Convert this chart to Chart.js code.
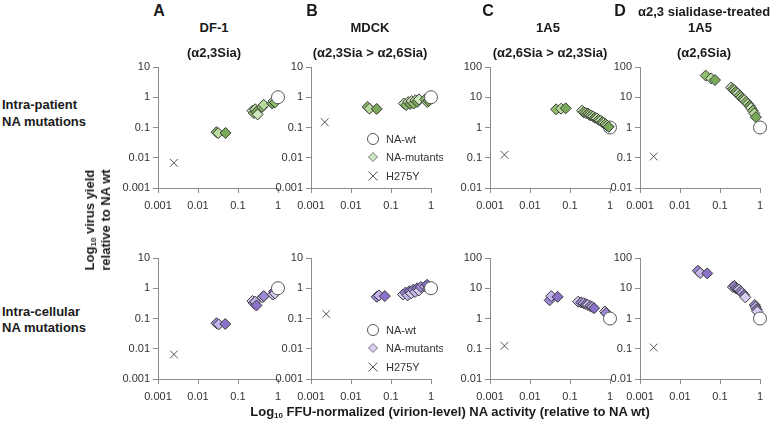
<!DOCTYPE html>
<html>
<head>
<meta charset="utf-8">
<script src="https://cdn.jsdelivr.net/npm/chart.js@4.4.1/dist/chart.umd.min.js"></script>
<style>
  body { margin: 0; background: #fff; }
  #wrap { position: relative; width: 775px; height: 430px; overflow: hidden;
          font-family: "Liberation Sans", Arial, sans-serif; color: #1a1a1a; }
  #wrap canvas { position: absolute; }
  .t { position: absolute; white-space: nowrap; font-weight: bold; font-size: 13px; line-height: 1; }
  .c { transform: translate(-50%, -50%); }
  .l { transform: translate(0, -50%); }
  .big { font-size: 16px; }
  .rot { transform: translate(-50%, -50%) rotate(-90deg); text-align: center; line-height: 16px; }
  sub { font-size: 8px; vertical-align: -2px; line-height: 0; }
</style>
</head>
<body>
<div id="wrap"></div>
<script>
// ─── Data ────────────────────────────────────────────────────────────────
var xTicks = [0.001, 0.01, 0.1, 1];
var yTicksLow = [0.001, 0.01, 0.1, 1, 10];     // DF-1, MDCK
var yTicksHigh = [0.01, 0.1, 1, 10, 100];      // 1A5 panels
var seriesLabels = ['NA-wt', 'NA-mutants', 'H275Y'];
var wtPoint = [1, 1];

// Intra-patient NA mutations (top row)
var dfPatX = [0.029, 0.032, 0.049, 0.23, 0.25, 0.27, 0.29, 0.31, 0.40, 0.44, 0.72, 0.78, 0.84];
var dfPatY = [0.07, 0.065, 0.066, 0.36, 0.30, 0.40, 0.33, 0.27, 0.48, 0.56, 0.62, 0.75, 0.68];
var dfPatH275Y = [0.0025, 0.0068];

var mdckPatX = [0.026, 0.029, 0.044, 0.21, 0.24, 0.27, 0.30, 0.33, 0.37, 0.41, 0.45, 0.50, 0.72, 0.80, 0.88];
var mdckPatY = [0.48, 0.42, 0.41, 0.62, 0.55, 0.70, 0.60, 0.75, 0.62, 0.80, 0.70, 0.85, 0.85, 0.70, 0.75];
var mdckPatH275Y = [0.0022, 0.15];

var a15PatX = [0.045, 0.06, 0.078, 0.2, 0.22, 0.25, 0.28, 0.31, 0.34, 0.38, 0.42, 0.47, 0.52, 0.58, 0.64, 0.70, 0.77, 0.85, 0.93];
var a15PatY = [4.0, 4.2, 4.3, 3.6, 3.2, 3.0, 2.9, 2.6, 2.5, 2.3, 2.1, 2.0, 1.8, 1.7, 1.5, 1.4, 1.3, 1.15, 1.05];
var a15PatH275Y = [0.0023, 0.125];

var sialPatX = [0.044, 0.06, 0.075, 0.19, 0.21, 0.23, 0.25, 0.28, 0.31, 0.34, 0.37, 0.41, 0.45, 0.50, 0.55, 0.60, 0.66, 0.72, 0.79];
var sialPatY = [52, 42, 37, 21, 18.5, 17, 15, 13, 11.5, 10, 9, 8, 7, 6, 5.2, 4.4, 3.6, 2.9, 2.2];
var sialPatH275Y = [0.0022, 0.11];

// Intra-cellular NA mutations (bottom row)
var dfCelX = [0.029, 0.033, 0.048, 0.23, 0.25, 0.27, 0.29, 0.41, 0.44, 0.74, 0.80, 0.84];
var dfCelY = [0.07, 0.064, 0.066, 0.38, 0.32, 0.36, 0.27, 0.50, 0.55, 0.62, 0.78, 0.68];
var dfCelH275Y = [0.0025, 0.0065];

var mdckCelX = [0.044, 0.05, 0.07, 0.20, 0.23, 0.26, 0.29, 0.32, 0.36, 0.40, 0.45, 0.50, 0.56, 0.72, 0.80, 0.87];
var mdckCelY = [0.52, 0.58, 0.55, 0.62, 0.72, 0.58, 0.80, 0.68, 0.90, 0.75, 1.0, 0.85, 1.1, 1.15, 1.3, 1.0];
var mdckCelH275Y = [0.0024, 0.14];

var a15CelX = [0.031, 0.034, 0.049, 0.16, 0.19, 0.22, 0.25, 0.28, 0.32, 0.36, 0.40, 0.75, 0.80];
var a15CelY = [4.0, 5.5, 5.2, 3.6, 3.4, 3.2, 3.0, 2.8, 2.6, 2.4, 2.2, 1.7, 1.5];
var a15CelH275Y = [0.0023, 0.125];

var sialCelX = [0.028, 0.032, 0.048, 0.21, 0.23, 0.25, 0.27, 0.30, 0.33, 0.36, 0.40, 0.43, 0.74, 0.78, 0.82, 0.86];
var sialCelY = [38, 32, 31, 11, 12, 10, 9.5, 9, 8, 7, 6, 5, 2.8, 2.4, 2.0, 1.7];
var sialCelH275Y = [0.0022, 0.11];

// ─── Layout / styles ─────────────────────────────────────────────────────
var axisLeft = [158, 311, 490, 640];
var plotTop = [67, 258];
var plotW = 120, plotH = 121;
var padL = 50, padT = 10, padR = 12, padB = 32;
var axisGray = '#8c8c8c';
var tickFont = { family: '"Liberation Sans", Arial, sans-serif', size: 11 };
var greens = ['#8fbf6a', '#b8da9f', '#7aa95a', '#cde5bc'];
var purples = ['#9f88d8', '#c4b4ec', '#8a72c8', '#d9cdf3'];

var panels = [
    { row: 0, col: 0, x: dfPatX,   y: dfPatY,   h: dfPatH275Y,   yt: yTicksLow,  shades: greens },
    { row: 0, col: 1, x: mdckPatX, y: mdckPatY, h: mdckPatH275Y, yt: yTicksLow,  shades: greens, legend: true },
    { row: 0, col: 2, x: a15PatX,  y: a15PatY,  h: a15PatH275Y,  yt: yTicksHigh, shades: greens, wtBelow: true },
    { row: 0, col: 3, x: sialPatX, y: sialPatY, h: sialPatH275Y, yt: yTicksHigh, shades: greens },
    { row: 1, col: 0, x: dfCelX,   y: dfCelY,   h: dfCelH275Y,   yt: yTicksLow,  shades: purples },
    { row: 1, col: 1, x: mdckCelX, y: mdckCelY, h: mdckCelH275Y, yt: yTicksLow,  shades: purples, legend: true },
    { row: 1, col: 2, x: a15CelX,  y: a15CelY,  h: a15CelH275Y,  yt: yTicksHigh, shades: purples },
    { row: 1, col: 3, x: sialCelX, y: sialCelY, h: sialCelH275Y, yt: yTicksHigh, shades: purples }
];

var wrap = document.getElementById('wrap');

// legend drawn inside the MDCK panels
var insideLegend = {
    id: 'insideLegend',
    afterDatasetsDraw: function (chart) {
        var ctx = chart.ctx, a = chart.chartArea;
        var mx = a.left + 62, tx = a.left + 75, ys = [72, 90, 109];
        ctx.save();
        ctx.lineWidth = 1;
        chart.data.datasets.forEach(function (ds, i) {
            var y = a.top + ys[i];
            ctx.beginPath();
            if (i === 0) {
                ctx.arc(mx, y, 5.5, 0, Math.PI * 2);
                ctx.fillStyle = '#fff'; ctx.fill();
                ctx.strokeStyle = '#555'; ctx.stroke();
            } else if (i === 1) {
                ctx.moveTo(mx, y - 4.5); ctx.lineTo(mx + 4.5, y);
                ctx.lineTo(mx, y + 4.5); ctx.lineTo(mx - 4.5, y); ctx.closePath();
                ctx.fillStyle = ds.legendFill; ctx.fill();
                ctx.strokeStyle = '#777'; ctx.stroke();
            } else {
                ctx.moveTo(mx - 4.5, y - 4.5); ctx.lineTo(mx + 4.5, y + 4.5);
                ctx.moveTo(mx + 4.5, y - 4.5); ctx.lineTo(mx - 4.5, y + 4.5);
                ctx.strokeStyle = '#555'; ctx.stroke();
            }
            ctx.font = '11px "Liberation Sans", Arial, sans-serif';
            ctx.fillStyle = '#333';
            ctx.textBaseline = 'middle';
            ctx.fillText(ds.label, tx, y + 0.5);
        });
        ctx.restore();
    }
};

function logAxis(vals, isX) {
    return {
        type: 'logarithmic',
        min: vals[0],
        max: vals[vals.length - 1],
        afterBuildTicks: function (s) { s.ticks = vals.map(function (v) { return { value: v }; }); },
        afterFit: function (s) { if (isX) { s.height = padB; } else { s.width = padL; } },
        ticks: {
            callback: function (v) { return vals.indexOf(v) >= 0 ? String(v) : ''; },
            font: tickFont,
            color: '#333',
            padding: isX ? 6 : 3,
            maxRotation: 0,
            autoSkip: false
        },
        grid: { display: true, drawOnChartArea: false, drawTicks: true, tickLength: 5, color: axisGray },
        border: { display: true, color: axisGray, width: 1 }
    };
}

panels.forEach(function (p) {
    var cv = document.createElement('canvas');
    var w = padL + plotW + padR, h = padT + plotH + padB;
    cv.width = w; cv.height = h;
    cv.style.left = (axisLeft[p.col] - padL) + 'px';
    cv.style.top = (plotTop[p.row] - padT) + 'px';
    cv.style.width = w + 'px'; cv.style.height = h + 'px';
    wrap.appendChild(cv);

    var mutants = p.x.map(function (v, i) { return { x: v, y: p.y[i] }; });
    var fills = p.x.map(function (v, i) { return p.shades[i % p.shades.length]; });

    new Chart(cv.getContext('2d'), {
        type: 'scatter',
        data: {
            datasets: [
                {
                    label: seriesLabels[0],
                    data: [{ x: wtPoint[0], y: wtPoint[1] }],
                    pointStyle: 'circle', pointRadius: 6.5,
                    backgroundColor: '#fff', borderColor: '#555', borderWidth: 1,
                    order: p.wtBelow ? 2 : 0,
                    clip: false
                },
                {
                    label: seriesLabels[1],
                    data: mutants,
                    pointStyle: 'rectRot', pointRadius: 5.5,
                    backgroundColor: fills, borderColor: '#3a3a3a', borderWidth: 1,
                    legendFill: p.shades[3],
                    order: 1,
                    clip: false
                },
                {
                    label: seriesLabels[2],
                    data: [{ x: p.h[0], y: p.h[1] }],
                    pointStyle: 'crossRot', pointRadius: 5.5,
                    borderColor: '#555', borderWidth: 1,
                    order: 3,
                    clip: false
                }
            ]
        },
        options: {
            responsive: false,
            animation: false,
            events: [],
            layout: { padding: { left: 0, top: padT, right: padR, bottom: 0 } },
            plugins: { legend: { display: false }, tooltip: { enabled: false } },
            scales: { x: logAxis(xTicks, true), y: logAxis(p.yt, false) }
        },
        plugins: p.legend ? [insideLegend] : []
    });
});

// ─── Text ────────────────────────────────────────────────────────────────
function txt(html, x, y, cls) {
    var d = document.createElement('div');
    d.className = 't ' + cls;
    d.style.left = x + 'px';
    d.style.top = y + 'px';
    d.innerHTML = html;
    wrap.appendChild(d);
}
txt('A', 159, 11, 'c big');
txt('DF-1', 214, 27, 'c');
txt('(α2,3Sia)', 214, 52, 'c');
txt('B', 312, 11, 'c big');
txt('MDCK', 370, 27, 'c');
txt('(α2,3Sia &gt; α2,6Sia)', 370, 52, 'c');
txt('C', 488, 11, 'c big');
txt('1A5', 548, 27, 'c');
txt('(α2,6Sia &gt; α2,3Sia)', 550, 52, 'c');
txt('D', 620, 11, 'c big');
txt('α2,3 sialidase-treated', 638, 11, 'l');
txt('1A5', 700, 27, 'c');
txt('(α2,6Sia)', 704, 52, 'c');
txt('Intra-patient', 2, 104, 'l');
txt('NA mutations', 2, 121, 'l');
txt('Intra-cellular', 2, 311, 'l');
txt('NA mutations', 2, 327, 'l');
txt('Log<sub>10</sub> virus yield<br>relative to NA wt', 98, 220, 'rot');
txt('Log<sub>10</sub> FFU-normalized (virion-level) NA activity (relative to NA wt)', 450, 411, 'c');
</script>
</body>
</html>
